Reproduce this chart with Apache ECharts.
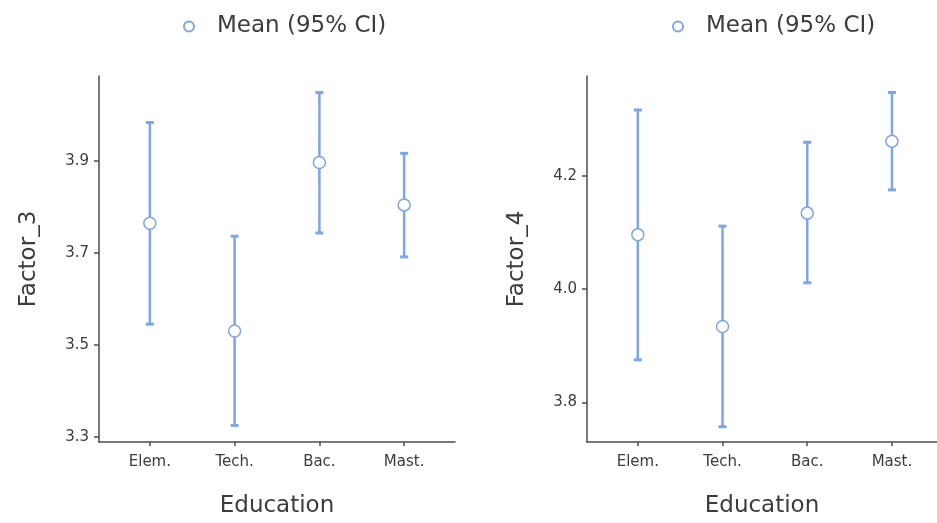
<!DOCTYPE html>
<html>
<head>
<meta charset="utf-8">
<script src="https://cdn.jsdelivr.net/npm/echarts@6/dist/echarts.min.js"></script>
<style>
html, body { margin: 0; padding: 0; background: #fff; }
#chart { width: 937px; height: 523px; }
</style>
</head>
<body>
<div id="chart"></div>
<script>
// education levels on the x axis
const categories = ['Elem.', 'Tech.', 'Bac.', 'Mast.'];

// Factor_3: mean and 95% CI
const f3Mean = [3.764, 3.530, 3.896, 3.804];
const f3Low = [3.545, 3.325, 3.743, 3.691];
const f3High = [3.983, 3.736, 4.048, 3.916];
const f3Ticks = [3.3, 3.5, 3.7, 3.9];

// Factor_4: mean and 95% CI
const f4Mean = [4.096, 3.934, 4.134, 4.261];
const f4Low = [3.875, 3.757, 4.011, 4.175];
const f4High = [4.316, 4.111, 4.259, 4.347];
const f4Ticks = [3.8, 4.0, 4.2];

const blue = '#7DA5E8';
const axisGrey = '#4d4d4d';
const textGrey = '#3c3c3c';
const font = 'DejaVu Sans';
const catIdx = categories.map((c, i) => i);

function errorBar(params, api) {
  const top = api.coord([api.value(0), api.value(2)]);
  const bot = api.coord([api.value(0), api.value(1)]);
  const w = 4;
  const style = { stroke: blue, lineWidth: 2.5 };
  return {
    type: 'group',
    children: [
      { type: 'line', shape: { x1: top[0], y1: top[1], x2: bot[0], y2: bot[1] }, style: style },
      { type: 'line', shape: { x1: top[0] - w, y1: top[1], x2: top[0] + w, y2: top[1] }, style: { stroke: blue, lineWidth: 3 } },
      { type: 'line', shape: { x1: bot[0] - w, y1: bot[1], x2: bot[0] + w, y2: bot[1] }, style: { stroke: blue, lineWidth: 3 } }
    ]
  };
}

function xAxis(idx, max) {
  return {
    type: 'value', gridIndex: idx, min: -0.6, max: max,
    name: 'Education', nameLocation: 'middle', nameGap: 53,
    nameTextStyle: { fontFamily: font, fontSize: 23, color: textGrey },
    axisLine: { show: true, onZero: false, lineStyle: { color: axisGrey, width: 1.5 } },
    axisTick: { show: true, length: 4, customValues: catIdx, lineStyle: { color: axisGrey, width: 1.5 } },
    axisLabel: {
      customValues: catIdx, margin: 13,
      formatter: v => categories[Math.round(v)],
      fontFamily: font, fontSize: 15, color: textGrey
    },
    splitLine: { show: false }
  };
}

function yAxis(idx, name, min, max, ticks) {
  return {
    type: 'value', gridIndex: idx, min: min, max: max, name: name,
    nameLocation: 'middle', nameGap: 58,
    nameTextStyle: { fontFamily: font, fontSize: 23, color: textGrey },
    axisLine: { show: true, onZero: false, lineStyle: { color: axisGrey, width: 1.5 } },
    axisTick: { show: true, length: 5, customValues: ticks, lineStyle: { color: axisGrey, width: 1.5 } },
    axisLabel: {
      customValues: ticks, margin: 10,
      formatter: v => v.toFixed(1),
      fontFamily: font, fontSize: 15, color: textGrey
    },
    splitLine: { show: false }
  };
}

function legend(left) {
  return {
    data: ['Mean (95% CI)'], left: left, top: 10,
    icon: 'circle', itemWidth: 10, itemHeight: 10,
    textStyle: { fontFamily: font, fontSize: 23, color: textGrey, padding: [0, 0, 0, 18] }
  };
}

const chart = echarts.init(document.getElementById('chart'));
chart.setOption({
  animation: false,
  backgroundColor: '#fff',
  legend: [legend(178), legend(667)],
  grid: [
    { left: 99, right: 482, top: 76, bottom: 80 },
    { left: 587, right: 0, top: 76, bottom: 80 }
  ],
  xAxis: [xAxis(0, 3.6), xAxis(1, 3.532)],
  yAxis: [
    yAxis(0, 'Factor_3', 3.289, 4.084, f3Ticks),
    yAxis(1, 'Factor_4', 3.730, 4.376, f4Ticks)
  ],
  series: [
    {
      type: 'custom', xAxisIndex: 0, yAxisIndex: 0, renderItem: errorBar,
      encode: { x: 0, y: [1, 2] },
      data: catIdx.map(i => [i, f3Low[i], f3High[i]])
    },
    {
      type: 'custom', xAxisIndex: 1, yAxisIndex: 1, renderItem: errorBar,
      encode: { x: 0, y: [1, 2] },
      data: catIdx.map(i => [i, f4Low[i], f4High[i]])
    },
    {
      name: 'Mean (95% CI)', type: 'scatter', xAxisIndex: 0, yAxisIndex: 0,
      symbol: 'circle', symbolSize: 12, z: 5,
      itemStyle: { color: '#fff', borderColor: blue, borderWidth: 1.5, opacity: 1 },
      data: catIdx.map(i => [i, f3Mean[i]])
    },
    {
      name: 'Mean (95% CI)', type: 'scatter', xAxisIndex: 1, yAxisIndex: 1,
      symbol: 'circle', symbolSize: 12, z: 5,
      itemStyle: { color: '#fff', borderColor: blue, borderWidth: 1.5, opacity: 1 },
      data: catIdx.map(i => [i, f4Mean[i]])
    }
  ]
});
</script>
</body>
</html>
